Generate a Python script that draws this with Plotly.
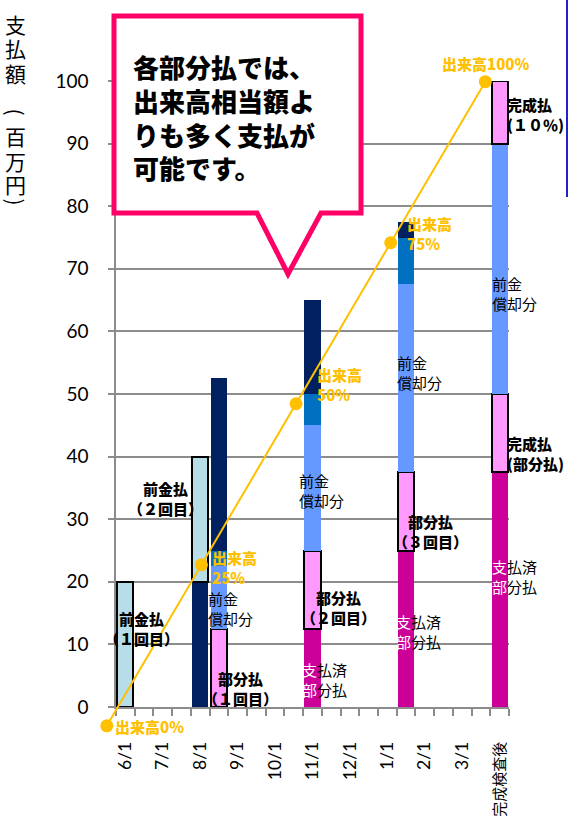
import plotly.graph_objects as go

# ---------------- data ----------------
x_labels = ["6/1", "", "7/1", "", "8/1", "", "9/1", "", "10/1", "", "11/1", "",
            "12/1", "", "1/1", "", "2/1", "", "3/1", "", "完成検査後"]

paid_partial = [None, None, None, None, None, None, None, None, None, None, 12.5,
                None, None, None, None, 25, None, None, None, None, 37.5]
partial_pay = [None, None, None, None, None, 12.5, None, None, None, None, 12.5,
               None, None, None, None, 12.5, None, None, None, None, 12.5]
advance_amort = [None, None, None, None, None, 10, None, None, None, None, 20,
                 None, None, None, None, 30, None, None, None, None, 40]
progress_extra = [None, None, None, None, None, 2.5, None, None, None, None, 5,
                  None, None, None, None, 7.5, None, None, None, None, None]
advance_balance = [None, None, None, None, 20, 27.5, None, None, None, None, 15,
                   None, None, None, None, 2.5, None, None, None, None, None]
advance_pay = [20, None, None, None, 20, None, None, None, None, None, None,
               None, None, None, None, None, None, None, None, None, None]
final_pay = [None, None, None, None, None, None, None, None, None, None, None,
             None, None, None, None, None, None, None, None, None, 10]

progress_pct = [0, 25, 50, 75, 100]

y_ticks = [0, 10, 20, 30, 40, 50, 60, 70, 80, 90, 100]

# ---------------- geometry ----------------
FIG_W, FIG_H = 569, 822
ML, MR, MT, MB = 80, 30, 30, 40
PW = FIG_W - ML - MR
PH = FIG_H - MT - MB
AX_L, AX_R, AX_T, AX_B = 116, 509, 81, 707


def px_x(px):
    return (px - ML) / PW


def px_y(py):
    return (FIG_H - MB - py) / PH


N = len(x_labels)
x_pos = list(range(N))
tick_text = [("<span style='font-size:15px'>%s</span>" % t) if len(t) > 4 else t
             for t in x_labels]

# secondary (progress line) mapping
P0 = (106.8, 725.8)
P100 = (485.3, 81.7)
sx = (P100[0] - P0[0]) / 100
sy = (P0[1] - P100[1]) / 100
x2_range = [(ML - P0[0]) / sx, (FIG_W - MR - P0[0]) / sx]
y2_range = [(P0[1] - (FIG_H - MB)) / sy, (P0[1] - MT) / sy]

FONT = "Lato, 'Noto Sans CJK JP', sans-serif"
JFONT = "'Noto Sans CJK JP', sans-serif"
GRID = "#8C8C8C"
GOLD = "#FFC000"

fig = go.Figure()

BW = 0.86
def add_bar(vals, color, outline=False, name=""):
    fig.add_trace(go.Bar(
        x=x_pos, y=vals, width=BW, name=name,
        marker=dict(color=color,
                    line=dict(color="black", width=2 if outline else 0)),
        hoverinfo="skip", showlegend=False))

add_bar(paid_partial, "#CC0099", name="支払済部分払")
add_bar(partial_pay, "#FF99FF", outline=True, name="部分払")
add_bar(advance_amort, "#6699FF", name="前金償却分")
add_bar(progress_extra, "#0070C0", name="出来高")
add_bar(advance_balance, "#002060", name="前金")
add_bar(advance_pay, "#B7DEE8", outline=True, name="前金払")
add_bar(final_pay, "#FF99FF", outline=True, name="完成払")

fig.add_trace(go.Scatter(
    x=progress_pct, y=progress_pct, xaxis="x2", yaxis="y2",
    mode="lines+markers",
    line=dict(color=GOLD, width=2),
    marker=dict(color=GOLD, size=13),
    hoverinfo="skip", showlegend=False, cliponaxis=False))

annotations = []

# y-axis title (vertical, upright characters; parentheses rotated)
title_chars = ["支", "払", "額", "(", "百", "万", "円", ")"]
title_y = [24, 47.5, 73.5, 112, 136, 161, 184, 202]
for ch, ty in zip(title_chars, title_y):
    rot = 90 if ch in "()" else 0
    annotations.append(dict(
        text=ch, x=px_x(15.5), y=px_y(ty), xref="paper", yref="paper",
        xanchor="center", yanchor="middle", showarrow=False, borderpad=0,
        textangle=rot,
        font=dict(family=JFONT, size=21, color="black")))

def lab(text, x, y, anchor="left", size=15, weight=400, color="black", align=None):
    annotations.append(dict(
        text=text, x=px_x(x - (3 if anchor == "left" else 0)), y=px_y(y),
        xref="paper", yref="paper", xanchor=anchor, yanchor="middle",
        align=align or anchor, showarrow=False,
        font=dict(family=JFONT, size=size, color=color, weight=weight)))

# bold labels
lab("前金払<br>（１回目）", 141, 628, "center", weight=900)
lab("前金払<br>（２回目）", 165, 498, "center", weight=900)
lab("部分払<br>（１回目）", 240, 688, "center", weight=900)
lab("部分払<br>（２回目）", 338, 607.5, "center", weight=900)
lab("部分払<br>（３回目）", 430, 531, "center", weight=900)
lab("完成払<br>(部分払)", 508, 453, "left", weight=900)
lab("完成払<br>(１０％)", 508, 114.5, "left", weight=900)

# regular labels
for (x, y) in [(209, 608), (300, 490), (398, 372.5), (493, 293.5)]:
    lab("前金<br>償却分", x, y)
W = "<span style='color:white'>{}</span>"
for (x, y) in [(303, 679.5), (397, 631), (493, 576)]:
    lab(W.format("支") + "払済<br>" + W.format("部") + "分払", x, y)

# progress labels
lab(f"出来高{progress_pct[0]}%", 116, 726, "left", weight=900, color=GOLD)
lab(f"出来高<br>{progress_pct[1]}%", 213, 567.5, "left", weight=900, color=GOLD)
lab(f"出来高<br>{progress_pct[2]}%", 318, 384.5, "left", weight=900, color=GOLD)
lab(f"出来高<br>{progress_pct[3]}%", 408, 233.5, "left", weight=900, color=GOLD)
lab(f"出来高{progress_pct[4]}%", 485, 63, "center", weight=900, color=GOLD)

# callout text
annotations.append(dict(
    text="各部分払では、<br>出来高相当額よ<br>りも多く支払が<br>可能です。",
    x=px_x(131), y=px_y(116.5), xref="paper", yref="paper",
    xanchor="left", yanchor="middle", align="left", showarrow=False,
    font=dict(family=JFONT, size=26, color="black", weight=900)))

# callout shape
pts = [(114, 16), (361, 16), (361, 213), (321, 213), (288, 274), (257, 213), (114, 213)]
path = "M " + " L ".join(f"{px_x(a):.5f},{px_y(b):.5f}" for a, b in pts) + " Z"
shapes = [
    dict(type="path", path=path, xref="paper", yref="paper",
         line=dict(color="#FF0066", width=5), fillcolor="white", layer="above"),
    dict(type="line", x0=px_x(567), x1=px_x(567), y0=px_y(0), y1=px_y(197),
         xref="paper", yref="paper", line=dict(color="#2222CC", width=2), layer="above"),
]

fig.update_layout(
    width=FIG_W, height=FIG_H,
    margin=dict(l=ML, r=MR, t=MT, b=MB),
    paper_bgcolor="white", plot_bgcolor="rgba(0,0,0,0)",
    barmode="stack", bargap=0,
    showlegend=False,
    font=dict(family=FONT, color="black"),
    annotations=annotations, shapes=shapes,
    xaxis=dict(
        domain=[px_x(AX_L), px_x(AX_R)], anchor="y",
        range=[-0.5, N - 0.5], tickmode="array", tickvals=x_pos, ticktext=tick_text,
        tickangle=-90, ticks="", showgrid=False, zeroline=False,
        showline=True, linecolor=GRID, linewidth=1.5,
        tickfont=dict(family=FONT, size=17.5, color="black"),
        ticklabelstandoff=26, automargin=False,
        minor=dict(tickmode="linear", tick0=-0.5, dtick=1, ticks="outside",
                   ticklen=7, tickwidth=1.5, tickcolor=GRID, showgrid=False),
    ),
    yaxis=dict(
        domain=[px_y(AX_B), px_y(AX_T)], anchor="x",
        range=[0, 100], tickmode="array", tickvals=y_ticks,
        ticks="outside", ticklen=6, tickwidth=1.5, tickcolor=GRID,
        showgrid=True, gridcolor=GRID, gridwidth=1.5, zeroline=False,
        showline=True, linecolor=GRID, linewidth=1.5,
        tickfont=dict(family=FONT, size=19, color="black"),
        ticklabelstandoff=16, automargin=False,
    ),
    xaxis2=dict(domain=[0, 1], anchor="y2", range=x2_range, visible=False),
    yaxis2=dict(domain=[0, 1], anchor="x2", range=y2_range, visible=False),
)

fig.write_html("out.html",
               config={"displayModeBar": False},
               post_script="document.body.style.margin='0px';"
                           "document.body.style.overflow='hidden';")
